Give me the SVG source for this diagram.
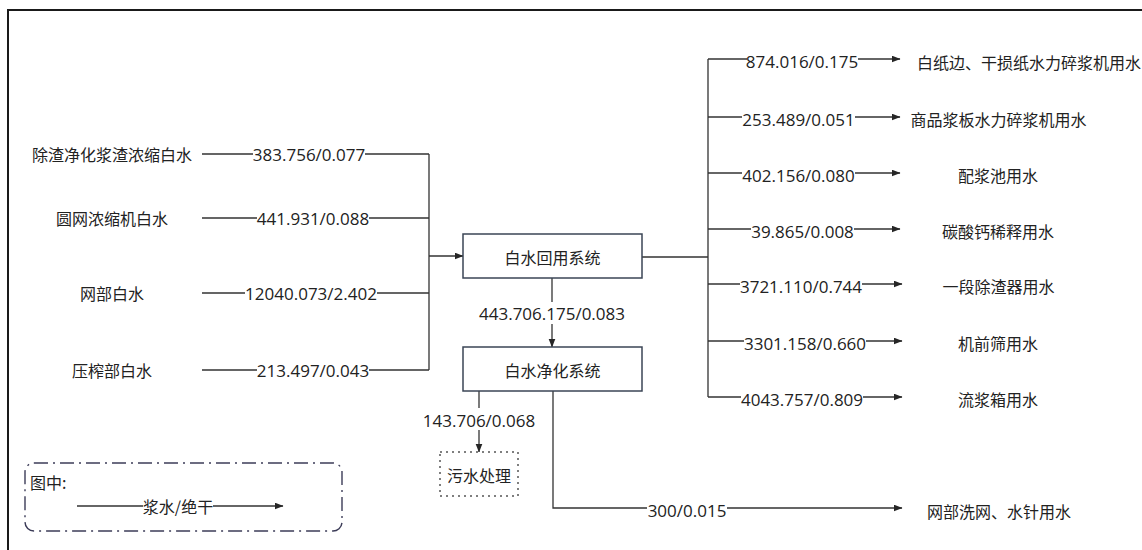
<svg xmlns="http://www.w3.org/2000/svg" width="1142" height="550" viewBox="0 0 1142 550">
<defs>
<marker id="ah" markerWidth="9" markerHeight="8" refX="8.5" refY="3.5" orient="auto" markerUnits="userSpaceOnUse">
<path d="M0,0 L9,3.5 L0,7 Z" fill="#262626"/>
</marker>
<style>
.ln{fill:none;stroke:#333;stroke-width:1.3}
.arr{fill:none;stroke:#333;stroke-width:1.3;marker-end:url(#ah)}
.bg{fill:#fff}
.num{font-family:"Open Sans","Noto Sans CJK SC",sans-serif;font-size:17px;fill:#222;text-anchor:middle;dominant-baseline:central}
.cjk{font-family:"Noto Sans CJK SC","Noto Sans",sans-serif;font-size:16px;fill:#222;text-anchor:middle;dominant-baseline:central}
.box{fill:#fff;stroke:#3b4556;stroke-width:1.5}
</style>
</defs>
<rect width="1142" height="550" fill="#fff"/>
<rect x="8" y="10" width="1200" height="600" fill="none" stroke="#1a1a1a" stroke-width="2"/>

<g id="connectors">
<path class="ln" d="M202,154 H429 M202,218 H429 M202,293 H429 M202,370 H429 M429,154 V370"/>
<path class="arr" d="M429,256 H463"/>
<path class="arr" d="M552,278 V347"/>
<path class="ln" d="M642,257 H708 M708,59 V397"/>
<path class="arr" d="M708,59 H900"/>
<path class="arr" d="M708,117 H900"/>
<path class="arr" d="M708,173 H900"/>
<path class="arr" d="M708,229 H900"/>
<path class="arr" d="M708,284 H902"/>
<path class="arr" d="M708,341 H902"/>
<path class="arr" d="M708,397 H902"/>
<path class="arr" d="M479,391 V452"/>
<path class="arr" d="M553,391 V508 H902"/>

<rect class="bg" x="253" y="145" width="112" height="18"/>
<text class="num" x="309" y="154">383.756/0.077</text>
<rect class="bg" x="257" y="209" width="112" height="18"/>
<text class="num" x="313" y="218">441.931/0.088</text>
<rect class="bg" x="245" y="284" width="132" height="18"/>
<text class="num" x="311" y="293">12040.073/2.402</text>
<rect class="bg" x="257" y="361" width="112" height="18"/>
<text class="num" x="313" y="370">213.497/0.043</text>

<rect class="bg" x="480" y="302" width="144" height="22"/>
<text class="num" x="552" y="313">443.706.175/0.083</text>
<rect class="bg" x="423" y="408" width="112" height="22"/>
<text class="num" x="479" y="420">143.706/0.068</text>
<rect class="bg" x="647" y="499" width="80" height="18"/>
<text class="num" x="687" y="510">300/0.015</text>

<rect class="bg" x="747" y="50" width="111" height="18"/>
<text class="num" x="802" y="61.5">874.016/0.175</text>
<rect class="bg" x="742" y="108" width="113" height="18"/>
<text class="num" x="798.5" y="119.5">253.489/0.051</text>
<rect class="bg" x="742" y="164" width="113" height="18"/>
<text class="num" x="798.5" y="175.5">402.156/0.080</text>
<rect class="bg" x="751" y="220" width="103" height="18"/>
<text class="num" x="802.5" y="231.5">39.865/0.008</text>
<rect class="bg" x="740" y="275" width="122" height="18"/>
<text class="num" x="801" y="286.5">3721.110/0.744</text>
<rect class="bg" x="744" y="332" width="122" height="18"/>
<text class="num" x="805" y="343.5">3301.158/0.660</text>
<rect class="bg" x="741" y="388" width="122" height="18"/>
<text class="num" x="802" y="399.5">4043.757/0.809</text>
</g>

<g id="src1"><text class="cjk" x="112" y="154">除渣净化浆渣浓缩白水</text></g>
<g id="src2"><text class="cjk" x="112" y="218">圆网浓缩机白水</text></g>
<g id="src3"><text class="cjk" x="112" y="293">网部白水</text></g>
<g id="src4"><text class="cjk" x="112" y="370">压榨部白水</text></g>

<g id="reuse">
<rect class="box" x="463" y="234" width="179" height="44"/>
<text class="cjk" x="552.5" y="257">白水回用系统</text>
</g>
<g id="purify">
<rect class="box" x="463" y="347" width="179" height="44"/>
<text class="cjk" x="552.5" y="370">白水净化系统</text>
</g>
<g id="sewage">
<rect x="440" y="452" width="78" height="44" fill="#fff" stroke="#555" stroke-width="1.5" stroke-dasharray="2,4"/>
<text class="cjk" x="479" y="475">污水处理</text>
</g>

<g id="t1"><text class="cjk" x="917" y="62" style="text-anchor:start">白纸边、干损纸水力碎浆机用水</text></g>
<g id="t2"><text class="cjk" x="998.5" y="119">商品浆板水力碎浆机用水</text></g>
<g id="t3"><text class="cjk" x="998" y="175">配浆池用水</text></g>
<g id="t4"><text class="cjk" x="998" y="231">碳酸钙稀释用水</text></g>
<g id="t5"><text class="cjk" x="998.5" y="286">一段除渣器用水</text></g>
<g id="t6"><text class="cjk" x="998" y="343">机前筛用水</text></g>
<g id="t7"><text class="cjk" x="998" y="399">流浆箱用水</text></g>
<g id="t8"><text class="cjk" x="999" y="511">网部洗网、水针用水</text></g>

<g id="legend">
<rect x="25" y="463" width="317" height="68" rx="9" fill="none" stroke="#3c3c58" stroke-width="1.4" stroke-dasharray="14,5,2,5"/>
<text class="cjk" x="30" y="482" style="text-anchor:start">图中:</text>
<path class="arr" d="M77,506 H283"/>
<rect class="bg" x="143" y="497" width="70" height="18"/>
<text class="cjk" x="178" y="506">浆水/绝干</text>
</g>
</svg>
